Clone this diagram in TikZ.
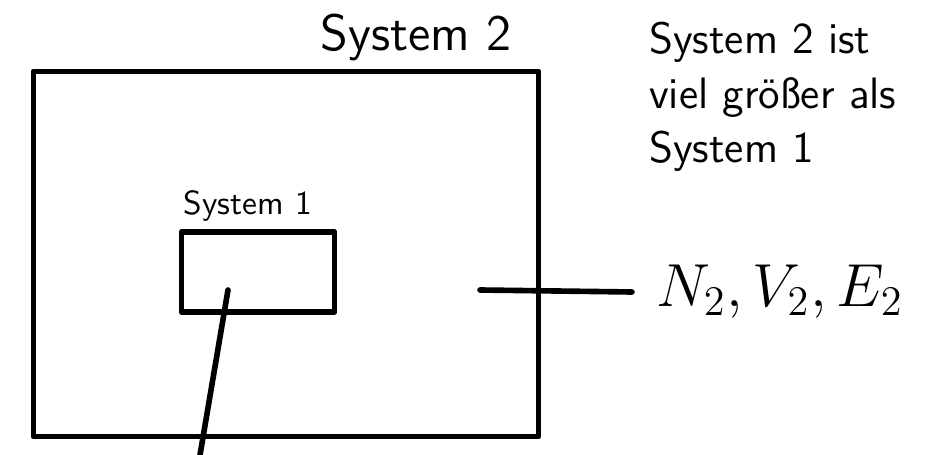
\documentclass[tikz,border=0pt]{standalone}
\usepackage{fontspec}
\usepackage{tikz}
\usetikzlibrary{positioning,calc}

\begin{document}
\begin{tikzpicture}[x=0.01cm, y=-0.01cm,
box/.style={draw, line width=1.6pt, line join=round, inner sep=0pt},
tag/.style={font=\sffamily, inner sep=1pt},
line/.style={line width=1.6pt, line cap=round}
]
\useasboundingbox (0,0) rectangle (930,455);
\node[box, minimum width=5.05cm, minimum height=3.65cm] (sys2) at (286,254) {};
\node[box, minimum width=1.53cm, minimum height=0.8cm] (sys1) at (258,272) {};
\node[tag, font=\sffamily\fontsize{14.5}{15}\selectfont, above=1pt of sys2.north, xshift=1.3cm] (name2) {System 2};
\node[tag, font=\sffamily\fontsize{9.5}{10}\selectfont, above=1pt of sys1.north, xshift=-0.1cm] (name1) {System 1};
\node[tag, font=\sffamily\fontsize{12.5}{15.5}\selectfont, align=left, anchor=north west] (note) at (645,18) {System 2 ist\\viel größer als\\System 1};
\node[tag, font=\fontsize{17}{17}\selectfont, anchor=west] (nve) at (652,292) {$N_2, V_2, E_2$};
\coordinate (inner) at (480,290);
\coordinate (top1) at (228,290);
\coordinate (bot1) at (200,455);
\draw[line] (inner) -- ([xshift=-0.2cm]nve.west);
\draw[line] (top1) -- (bot1);
\end{tikzpicture}
\end{document}
